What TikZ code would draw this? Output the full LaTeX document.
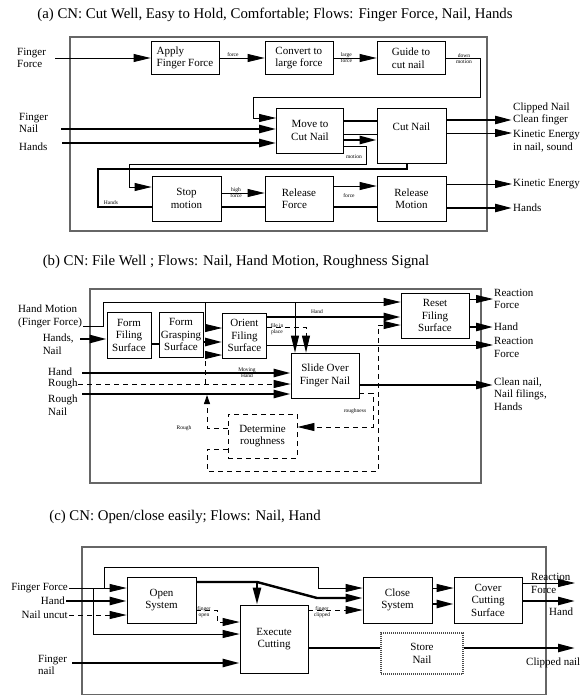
\documentclass[tikz,border=0pt]{standalone}
\usepackage{fontspec}
\setmainfont{Liberation Serif}
\usetikzlibrary{arrows.meta}

\begin{document}
\begin{tikzpicture}[>={Triangle[length=17pt,width=8pt]},x=1pt,y=-1pt,
  blk/.style={draw,line width=.8pt,align=center,inner sep=1pt,font=\fontsize{11}{12.5}\selectfont},
  frm/.style={draw=black!60,line width=1.8pt},
  thk/.style={line width=2.4pt},
  thn/.style={line width=.8pt},
  dsh/.style={line width=.9pt,dash pattern=on 5pt off 4pt},
  stor/.style={draw=black!70,line width=2.2pt,dash pattern=on 1pt off 1pt},
  tiny/.style={font=\fontsize{5.5}{6}\selectfont,inner sep=.5pt,align=center},
  lbl/.style={font=\fontsize{11}{12.5}\selectfont,inner sep=1pt,align=left},
  ttl/.style={font=\fontsize{14.8}{17}\selectfont}]
\useasboundingbox (0,0) rectangle (581,696);

% (a) cut well
\node[ttl] (ta) at (275,15) {(a) CN: Cut Well, Easy to Hold, Comfortable; Flows: Finger Force, Nail, Hands};
\draw[frm] (70,37) rectangle (487,231);
\node[blk,align=left,minimum width=68,minimum height=33] (apply) at (185,58) {Apply\\Finger Force};
\node[blk,align=left,minimum width=68,minimum height=33] (convert) at (299,58) {Convert to\\large force};
\node[blk,align=left,minimum width=68,minimum height=33] (guide) at (411,58) {Guide to\\cut nail};
\node[blk,minimum width=67,minimum height=45] (move) at (310,130.5) {Move to\\Cut Nail};
\node[blk,minimum width=69,minimum height=55,
  label={[font=\fontsize{11}{12.5}\selectfont,anchor=north,yshift=-12pt]north:Cut Nail}] (cut) at (411.5,135.5) {};
\node[blk,minimum width=69,minimum height=45] (stop) at (186.5,198.5) {Stop\\motion};
\node[blk,align=left,minimum width=68,minimum height=45] (relf) at (299,198.5) {Release\\Force};
\node[blk,minimum width=69,minimum height=45] (relm) at (411.5,198.5) {Release\\Motion};

\node[lbl,anchor=west,text width=37] (ffa) at (16,58) {Finger\\Force};
\node[lbl,anchor=west,text width=41] (fna) at (18,123) {Finger\\Nail};
\node[lbl,anchor=west,text width=42] (hda) at (18,147) {Hands};
\node[lbl,anchor=west] (cna) at (512,114) {Clipped Nail\\Clean finger};
\node[lbl,anchor=west] (kea) at (512,141) {Kinetic Energy\\in nail, sound};
\node[lbl,anchor=west] (keb) at (512,184) {Kinetic Energy};
\node[lbl,anchor=west] (hdb) at (512,208) {Hands};

\draw[thn,->] (ffa.east) -- (apply);
\draw[thn,->] (apply) -- (convert) node[tiny,pos=.3,above=1pt] {force};
\draw[thn,->] (convert) -- (guide) node[tiny,pos=.3] {large\\force};
\draw[thn,->] (guide) -- (480,58) -- (480,97) -- (253,97) -- (253,118) -- (move.west |- 0,118);
\node[tiny] (dm) at (464,59) {down\\motion};
\draw[thk,->] (fna.east |- 0,129) -- (move.west |- 0,129);
\draw[thk,->] (hda.east |- 0,143) -- (move.west |- 0,143);
\draw[thk] (move.east |- 0,121) -- (cut.west |- 0,121);
\draw[thn] (move.east |- 0,134) -- (cut.west |- 0,134);
\draw[thk,->] (move.east |- 0,140) -- (cut.west |- 0,140);
\draw[thn,->] (move.east |- 0,146) -- (366,146) -- (366,164) -- (129,164) -- (129,187) -- (stop.west |- 0,187);
\node[tiny] (mo) at (354,157) {motion};
\draw[thk,->] (cut.east |- 0,120) -- (cna.west |- 0,120);
\draw[thn,->] (cut.east |- 0,133) -- (kea.west |- 0,133);
\draw[thk] (cut.south -| 407,0) -- (407,169) -- (98,169) -- (98,207) -- (stop.west |- 0,207);
\node[tiny] (hdt) at (111,203) {Hands};
\draw[thn,->] (stop.east |- 0,193) -- (relf.west |- 0,193) node[tiny,pos=.34] {high\\force};
\draw[thk] (stop.east |- 0,207) -- (relf.west |- 0,207);
\draw[thn,->] (relf.east |- 0,186) -- (relm.west |- 0,186);
\node[tiny] (fb) at (349,196) {force};
\draw[thk] (relf.east |- 0,207) -- (relm.west |- 0,207);
\draw[thn,->] (relm.east |- 0,184) -- (keb);
\draw[thk,->] (relm.east |- 0,208) -- (hdb);

% (b) file well
\node[ttl] (tb) at (236,262) {(b) CN: File Well ; Flows: Nail, Hand Motion, Roughness Signal};
\draw[frm] (90,289) rectangle (481,483);
\node[blk,minimum width=44,minimum height=46] (ffs) at (129,335) {Form\\Filing\\Surface};
\node[blk,minimum width=44,minimum height=45] (fgs) at (181,334.5) {Form\\Grasping\\Surface};
\node[blk,minimum width=44,minimum height=45] (ofs) at (244.5,335.5) {Orient\\Filing\\Surface};
\node[blk,minimum width=68,minimum height=45] (sof) at (325,375.5) {Slide Over\\Finger Nail};
\node[blk,minimum width=68,minimum height=45] (rfs) at (435,315.5) {Reset\\Filing\\Surface};
\node[blk,dsh,minimum width=69,minimum height=44] (detr) at (262.5,436) {Determine\\roughness};

\node[lbl,anchor=west] (hmo) at (17,316.5) {Hand Motion\\(Finger Force)};
\node[lbl,anchor=east,text width=36] (hnb) at (80,344) {Hands,\\Nail};
\node[lbl,anchor=west,text width=33] (hb) at (47,372) {Hand};
\node[lbl,anchor=west,text width=29] (rb) at (47,384) {Rough};
\node[lbl,anchor=west,text width=33] (rnb) at (47,405) {Rough\\Nail};
\node[lbl,anchor=west] (rf1) at (493,299) {Reaction\\Force};
\node[lbl,anchor=west] (hdr) at (493,327) {Hand};
\node[lbl,anchor=west] (rf2) at (493,347.5) {Reaction\\Force};
\node[lbl,anchor=west] (cnb) at (493,394) {Clean nail,\\Nail filings,\\Hands};
\coordinate (jb1) at (205,302);
\coordinate (jb2) at (295,302);
\coordinate (jb3) at (205,384);

\draw[thn,->] (hmo.east |- 0,326) -- (103,326) -- (103,302) -- (rfs.west |- 0,302);
\draw[thn,->] (jb1) -- (205,328) -- (ofs.west |- 0,328);
\draw[thn,->] (jb2) -- (sof.north -| jb2);
\draw[thk,->] (hnb.east |- 0,339) -- (ffs.west |- 0,339);
\draw[thk] (ffs.east |- 0,344) -- (fgs.west |- 0,344);
\draw[thk,->] (fgs.east |- 0,342) -- (ofs.west |- 0,342);
\draw[dsh,->] (jb3) -- (205,355) -- (ofs.west |- 0,355);
\draw[dsh,-{Triangle[length=9pt,width=6pt]}] (detr.west |- 0,428) -- (207,428) -- (207,395);
\node[tiny] (rgt) at (184,428) {Rough};
\draw[thk,->] (hb.east |- 0,373) -- (sof.west |- 0,373);
\node[tiny] (mvh) at (247,373) {Moving\\Hand};
\draw[dsh,->] (rb.east |- 0,384) -- (sof.west |- 0,384);
\draw[thk,->] (rnb.east |- 0,394) -- (sof.west |- 0,394);
\draw[thk,->] (sof.east |- 0,385) -- (cnb.west |- 0,385);
\draw[dsh,->] (sof.east |- 0,393) -- (373,393) -- (373,427) -- (detr.east |- 0,427);
\node[tiny] (rgh) at (355,411) {roughness};
\draw[dsh,->] (detr.west |- 0,449) -- (207,449) -- (207,471) -- (378,471) -- (378,325) -- (rfs.west |- 0,325);
\draw[thk,->] (ofs.east |- 0,317) -- (rfs.west |- 0,317);
\node[tiny] (hdo) at (317,312) {Hand};
\draw[thn,->] (ofs.east |- 0,345) -- (rf2.west |- 0,345);
\draw[dsh,->] (ofs.east |- 0,327) -- (306,327) -- (sof.north -| 306,0);
\node[tiny] (fip) at (277,329) {file in\\place};
\draw[thn,->] (rfs.east |- 0,299) -- (rf1.west |- 0,299);
\draw[thk,->] (rfs.east |- 0,327) -- (hdr);

% (c) open/close
\node[ttl] (tc) at (185,517) {(c) CN: Open/close easily; Flows: Nail, Hand};
\draw[frm] (82,547) rectangle (546,694.5);
\node[blk,minimum width=69,minimum height=46] (opens) at (161.5,600) {Open\\System};
\node[blk,minimum width=68,minimum height=68] (exec) at (274,639) {Execute\\Cutting};
\node[blk,minimum width=69,minimum height=46] (closes) at (397.5,600) {Close\\System};
\node[blk,minimum width=68,minimum height=46] (cover) at (488,600) {Cover\\Cutting\\Surface};
\node[blk,stor,minimum width=82,minimum height=41] (store) at (422,653.5) {Store\\Nail};

\node[lbl,anchor=east] (ffc) at (69,588) {Finger Force};
\node[lbl,anchor=east] (hdc) at (66,601) {Hand};
\node[lbl,anchor=east] (nuc) at (69,615) {Nail uncut};
\node[lbl,anchor=west,text width=33] (fnc) at (37,665) {Finger\\nail};
\node[lbl,anchor=west] (rfc) at (530,583.5) {Reaction\\Force};
\node[lbl,anchor=west] (hdcc) at (548,612) {Hand};
\node[lbl,anchor=west] (cnc) at (525,663) {Clipped nail};
\coordinate (jc1) at (104,588);
\coordinate (jc2) at (93,588);
\coordinate (jc3) at (257,582);
\coordinate (rfe) at (575,583);
\coordinate (hde) at (575,601);
\coordinate (cle) at (575,648);

\draw[thn,->] (ffc.east) -- (opens.west |- 0,588);
\draw[thn,->] (jc1) -- (104,567) -- (318,567) -- (318,588) -- (closes.west |- 0,588);
\draw[thn,->] (jc2) -- (93,634) -- (exec.west |- 0,634);
\draw[thk,->] (hdc.east) -- (opens.west |- 0,601);
\draw[dsh,->] (nuc.east) -- (opens.west |- 0,615);
\draw[thk,->] (fnc.east |- 0,663) -- (exec.west |- 0,663);
\draw[thk,->] (opens.east |- 0,582) -- (jc3) -- (317,598) -- (closes.west |- 0,598);
\draw[thk,->] (jc3) -- (exec.north -| jc3);
\draw[dsh,->] (opens.east |- 0,610) -- (217,610) -- (217,622) -- (exec.west |- 0,622);
\node[tiny] (fop) at (204,612) {finger\\open};
\draw[dsh,->] (exec.east |- 0,610) -- (closes.west |- 0,610);
\node[tiny] (fcl) at (322,612) {finger\\clipped};
\draw[thn,->] (closes.east |- 0,588) -- (cover.west |- 0,588);
\draw[thk,->] (closes.east |- 0,604) -- (cover.west |- 0,604);
\draw[thn,->] (cover.east |- 0,583) -- (rfe);
\draw[thk,->] (cover.east |- 0,601) -- (hde);
\draw[thk] (exec.east |- 0,648) -- (store.west |- 0,648);
\draw[thk,->] (store.east |- 0,648) -- (cle);
\end{tikzpicture}
\end{document}
